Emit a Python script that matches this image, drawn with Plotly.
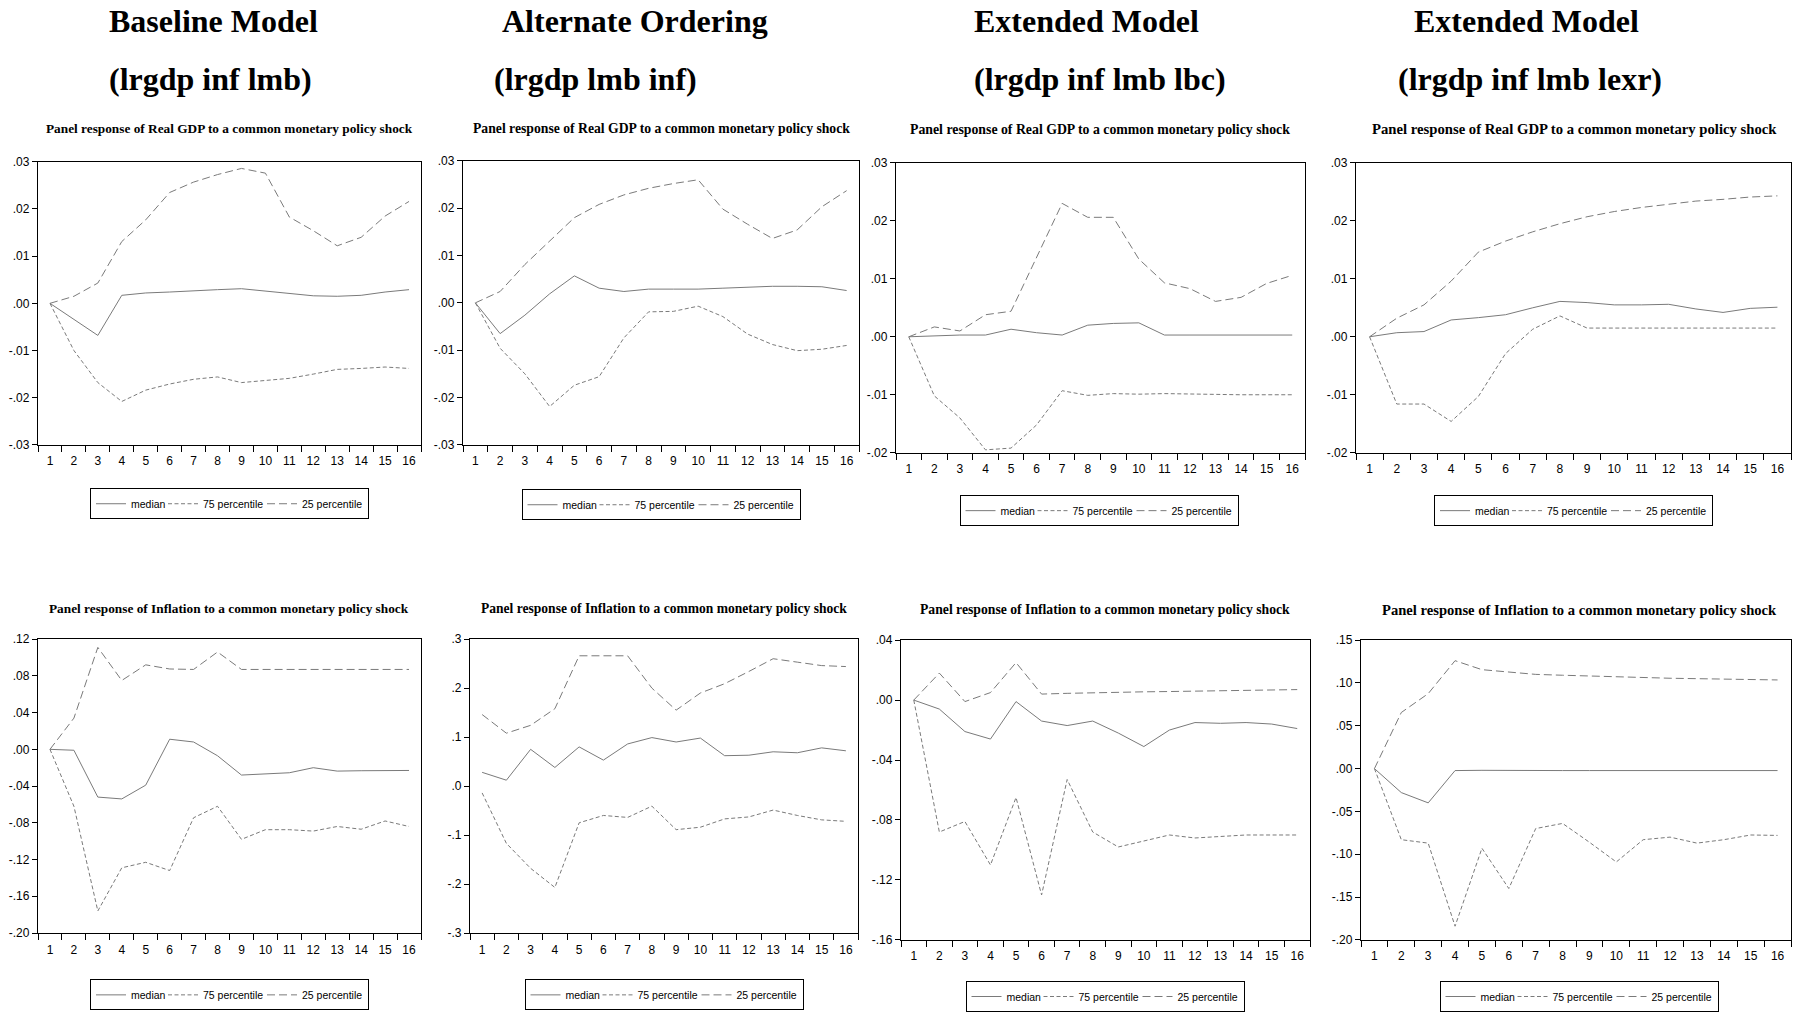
import plotly.graph_objects as go

W, H = 1793, 1012

periods = list(range(1, 17))

# ---- Panel response of Real GDP ----
gdp_base_median = [0, -0.0034, -0.0068, 0.0017, 0.0022, 0.0024, 0.0027, 0.0029, 0.0031, 0.0026, 0.0021, 0.0016, 0.0015, 0.0017, 0.0024, 0.0029]
gdp_base_p75 = [0, -0.0100, -0.0168, -0.0208, -0.0184, -0.0171, -0.0161, -0.0156, -0.0168, -0.0163, -0.0159, -0.0150, -0.0140, -0.0138, -0.0135, -0.0138]
gdp_base_p25 = [0, 0.0015, 0.0043, 0.0131, 0.0177, 0.0235, 0.0257, 0.0273, 0.0286, 0.0276, 0.0183, 0.0154, 0.0122, 0.0140, 0.0185, 0.0216]

gdp_alt_median = [0, -0.0065, -0.0026, 0.0019, 0.0057, 0.0031, 0.0024, 0.0029, 0.0029, 0.0029, 0.0031, 0.0033, 0.0035, 0.0035, 0.0034, 0.0026]
gdp_alt_p75 = [0, -0.0096, -0.0150, -0.0219, -0.0174, -0.0156, -0.0074, -0.0019, -0.0018, -0.0007, -0.0029, -0.0066, -0.0088, -0.0101, -0.0098, -0.0090]
gdp_alt_p25 = [0, 0.0024, 0.0081, 0.0130, 0.0180, 0.0208, 0.0228, 0.0242, 0.0252, 0.0260, 0.0198, 0.0166, 0.0136, 0.0154, 0.0203, 0.0237]

gdp_lbc_median = [0, 0.0002, 0.0003, 0.0003, 0.0013, 0.0007, 0.0003, 0.0020, 0.0023, 0.0024, 0.0003, 0.0003, 0.0003, 0.0003, 0.0003, 0.0003]
gdp_lbc_p75 = [0, -0.0102, -0.0140, -0.0195, -0.0192, -0.0152, -0.0093, -0.0101, -0.0098, -0.0099, -0.0098, -0.0099, -0.0100, -0.0100, -0.0100, -0.0100]
gdp_lbc_p25 = [0, 0.0017, 0.0010, 0.0038, 0.0044, 0.0138, 0.0230, 0.0206, 0.0206, 0.0134, 0.0093, 0.0083, 0.0061, 0.0068, 0.0092, 0.0106]

gdp_lexr_median = [0, 0.0007, 0.0009, 0.0029, 0.0033, 0.0038, 0.0050, 0.0061, 0.0059, 0.0055, 0.0055, 0.0056, 0.0048, 0.0042, 0.0049, 0.0051]
gdp_lexr_p75 = [0, -0.0116, -0.0116, -0.0146, -0.0103, -0.0029, 0.0013, 0.0036, 0.0015, 0.0015, 0.0015, 0.0015, 0.0015, 0.0015, 0.0015, 0.0015]
gdp_lexr_p25 = [0, 0.0032, 0.0055, 0.0096, 0.0146, 0.0165, 0.0181, 0.0195, 0.0207, 0.0216, 0.0223, 0.0229, 0.0234, 0.0237, 0.0241, 0.0243]

# ---- Panel response of Inflation ----
inf_base_median = [0, -0.001, -0.052, -0.054, -0.039, 0.011, 0.008, -0.007, -0.028, -0.027, -0.0255, -0.020, -0.0237, -0.0233, -0.023, -0.023]
inf_base_p75 = [0, -0.062, -0.176, -0.129, -0.123, -0.132, -0.0745, -0.062, -0.098, -0.0875, -0.0875, -0.089, -0.084, -0.087, -0.078, -0.084]
inf_base_p25 = [0, 0.034, 0.111, 0.075, 0.092, 0.0875, 0.087, 0.106, 0.087, 0.087, 0.087, 0.087, 0.087, 0.087, 0.087, 0.087]

inf_alt_median = [0.028, 0.012, 0.075, 0.038, 0.080, 0.053, 0.086, 0.099, 0.090, 0.098, 0.062, 0.063, 0.070, 0.068, 0.078, 0.072]
inf_alt_p75 = [-0.014, -0.117, -0.168, -0.207, -0.075, -0.060, -0.064, -0.041, -0.089, -0.084, -0.067, -0.063, -0.049, -0.060, -0.069, -0.072]
inf_alt_p25 = [0.146, 0.108, 0.124, 0.158, 0.266, 0.266, 0.266, 0.200, 0.155, 0.190, 0.209, 0.234, 0.260, 0.253, 0.246, 0.244]

inf_lbc_median = [0, -0.006, -0.021, -0.026, -0.001, -0.014, -0.017, -0.014, -0.022, -0.031, -0.020, -0.015, -0.0155, -0.015, -0.016, -0.019]
inf_lbc_p75 = [0, -0.088, -0.081, -0.110, -0.065, -0.130, -0.053, -0.088, -0.098, -0.094, -0.090, -0.092, -0.091, -0.090, -0.090, -0.090]
inf_lbc_p25 = [0, 0.018, -0.001, 0.005, 0.025, 0.004, 0.0045, 0.005, 0.0053, 0.0055, 0.0057, 0.006, 0.0063, 0.0065, 0.0068, 0.007]

inf_lexr_median = [0, -0.028, -0.040, -0.0023, -0.002, -0.0023, -0.0023, -0.0023, -0.0023, -0.0023, -0.0023, -0.0023, -0.0023, -0.0023, -0.0023, -0.0023]
inf_lexr_p75 = [0, -0.083, -0.087, -0.184, -0.093, -0.140, -0.070, -0.064, -0.086, -0.109, -0.083, -0.080, -0.087, -0.083, -0.0775, -0.078]
inf_lexr_p25 = [0, 0.0655, 0.0875, 0.126, 0.1155, 0.1128, 0.110, 0.109, 0.108, 0.107, 0.1065, 0.1055, 0.105, 0.1045, 0.104, 0.1035]

# ---- y-axis tick values and labels ----
gdp_ticks_a = [-0.03, -0.02, -0.01, 0.0, 0.01, 0.02, 0.03]
gdp_labels_a = ["-.03", "-.02", "-.01", ".00", ".01", ".02", ".03"]
gdp_ticks_b = [-0.02, -0.01, 0.0, 0.01, 0.02, 0.03]
gdp_labels_b = ["-.02", "-.01", ".00", ".01", ".02", ".03"]
inf_base_ticks = [-0.20, -0.16, -0.12, -0.08, -0.04, 0.0, 0.04, 0.08, 0.12]
inf_base_labels = ["-.20", "-.16", "-.12", "-.08", "-.04", ".00", ".04", ".08", ".12"]
inf_alt_ticks = [-0.3, -0.2, -0.1, 0.0, 0.1, 0.2, 0.3]
inf_alt_labels = ["-.3", "-.2", "-.1", ".0", ".1", ".2", ".3"]
inf_lbc_ticks = [-0.16, -0.12, -0.08, -0.04, 0.0, 0.04]
inf_lbc_labels = ["-.16", "-.12", "-.08", "-.04", ".00", ".04"]
inf_lexr_ticks = [-0.20, -0.15, -0.10, -0.05, 0.0, 0.05, 0.10, 0.15]
inf_lexr_labels = ["-.20", "-.15", "-.10", "-.05", ".00", ".05", ".10", ".15"]

series_names = ["median", "75 percentile", "25 percentile"]
model_titles = ["Baseline Model", "Alternate Ordering", "Extended Model", "Extended Model"]
model_specs = ["(lrgdp inf lmb)", "(lrgdp lmb inf)", "(lrgdp inf lmb lbc)", "(lrgdp inf lmb lexr)"]
gdp_title = "Panel response of Real GDP to a common monetary policy shock"
inf_title = "Panel response of Inflation to a common monetary policy shock"

# panel frames in pixels: (left, top, right, bottom), title centre, title size, legend centre/top
panels = [
    dict(series=(gdp_base_median, gdp_base_p75, gdp_base_p25), ticks=gdp_ticks_a, labels=gdp_labels_a,
         frame=(38, 157, 421, 444), title=gdp_title, tx=229, ty=123, ts=13.3, lx=229.5, ly=488),
    dict(series=(gdp_alt_median, gdp_alt_p75, gdp_alt_p25), ticks=gdp_ticks_a, labels=gdp_labels_a,
         frame=(463, 156, 859, 444), title=gdp_title, tx=661, ty=123, ts=13.7, lx=661, ly=489),
    dict(series=(gdp_lbc_median, gdp_lbc_p75, gdp_lbc_p25), ticks=gdp_ticks_b, labels=gdp_labels_b,
         frame=(896, 158, 1305, 452), title=gdp_title, tx=1100, ty=124, ts=13.8, lx=1099, ly=495),
    dict(series=(gdp_lexr_median, gdp_lexr_p75, gdp_lexr_p25), ticks=gdp_ticks_b, labels=gdp_labels_b,
         frame=(1356, 158, 1791, 452), title=gdp_title, tx=1574, ty=124, ts=14.7, lx=1573.5, ly=495),
    dict(series=(inf_base_median, inf_base_p75, inf_base_p25), ticks=inf_base_ticks, labels=inf_base_labels,
         frame=(38, 641, 421, 939), title=inf_title, tx=229, ty=610, ts=13.3, lx=229.5, ly=986),
    dict(series=(inf_alt_median, inf_alt_p75, inf_alt_p25), ticks=inf_alt_ticks, labels=inf_alt_labels,
         frame=(470, 641, 858, 939), title=inf_title, tx=664, ty=610, ts=13.55, lx=664, ly=986),
    dict(series=(inf_lbc_median, inf_lbc_p75, inf_lbc_p25), ticks=inf_lbc_ticks, labels=inf_lbc_labels,
         frame=(901, 642, 1310, 946), title=inf_title, tx=1105, ty=611, ts=13.7, lx=1105, ly=988),
    dict(series=(inf_lexr_median, inf_lexr_p75, inf_lexr_p25), ticks=inf_lexr_ticks, labels=inf_lexr_labels,
         frame=(1361, 642, 1791, 946), title=inf_title, tx=1579, ty=611, ts=14.6, lx=1579, ly=988),
]

LINE_GRAY = "#7a7a7a"
dash_styles = ["solid", "4px,2.5px", "8px,4px"]
entry_widths = [27, 54, 61]
SANS = "Liberation Sans"
SERIF = "Liberation Serif"

fig = go.Figure()
layout = dict(
    width=W, height=H, margin=dict(l=0, r=0, t=0, b=0),
    paper_bgcolor="white", plot_bgcolor="white",
    font=dict(family=SANS, color="black", size=12),
    showlegend=True,
)
annotations = []

for i, p in enumerate(panels):
    n = i + 1
    sfx = "" if n == 1 else str(n)
    xa, ya, lg = "x" + sfx, "y" + sfx, "legend" + sfx
    x0, y0, x1, y1 = p["frame"]

    for name, vals, dash, ew in zip(series_names, p["series"], dash_styles, entry_widths):
        fig.add_trace(go.Scatter(
            x=periods, y=vals, mode="lines", name=name,
            line=dict(color=LINE_GRAY, width=1, dash=dash),
            xaxis=xa, yaxis=ya, legend=lg, legendwidth=ew, hoverinfo="skip",
        ))

    layout["xaxis" + sfx] = dict(
        domain=[x0 / W, x1 / W], anchor=ya, range=[0.5, 16.5],
        tickmode="array", tickvals=periods, ticktext=[str(v) for v in periods],
        ticks="outside", ticklen=5, tickcolor="rgba(0,0,0,0)",
        minor=dict(tickmode="array", tickvals=[k + 0.5 for k in range(17)],
                   ticks="outside", ticklen=6, tickwidth=1, tickcolor="black", showgrid=False),
        showline=True, linecolor="black", linewidth=1.3, mirror=True,
        showgrid=False, zeroline=False, tickfont=dict(family=SANS, size=12),
        fixedrange=True,
    )
    lo, hi = p["ticks"][0], p["ticks"][-1]
    layout["yaxis" + sfx] = dict(
        domain=[1 - y1 / H, 1 - y0 / H], anchor=xa, range=[lo, hi],
        tickmode="array", tickvals=p["ticks"], ticktext=p["labels"],
        ticks="outside", ticklen=5, tickwidth=1, tickcolor="black",
        showline=True, linecolor="black", linewidth=1.3, mirror=True,
        showgrid=False, zeroline=False, tickfont=dict(family=SANS, size=12),
        fixedrange=True,
    )
    layout[lg] = dict(
        x=p["lx"] / W, y=1 - p["ly"] / H, xanchor="center", yanchor="top",
        orientation="h", bgcolor="white", bordercolor="black", borderwidth=1,
        font=dict(family=SANS, size=10.5, color="black"),
        itemwidth=30, itemclick=False, itemdoubleclick=False,
    )
    annotations.append(dict(
        text="<b>" + p["title"] + "</b>", x=p["tx"] / W, y=1 - p["ty"] / H,
        xref="paper", yref="paper", xanchor="center", yanchor="middle", showarrow=False,
        font=dict(family=SERIF, size=p["ts"], color="black"),
    ))

# model headings above each column
head_left = [107, 500, 972, 1412]
spec_left = [107, 492, 972, 1396]
for k in range(4):
    annotations.append(dict(
        text="<b>" + model_titles[k] + "</b>", x=head_left[k] / W, y=1 - 14 / H,
        xref="paper", yref="paper", xanchor="left", yanchor="middle", showarrow=False,
        font=dict(family=SERIF, size=32, color="black"),
    ))
    annotations.append(dict(
        text="<b>" + model_specs[k] + "</b>", x=spec_left[k] / W, y=1 - 73 / H,
        xref="paper", yref="paper", xanchor="left", yanchor="middle", showarrow=False,
        font=dict(family=SERIF, size=32, color="black"),
    ))

layout["annotations"] = annotations
fig.update_layout(**layout)
fig.write_html("out.html")
